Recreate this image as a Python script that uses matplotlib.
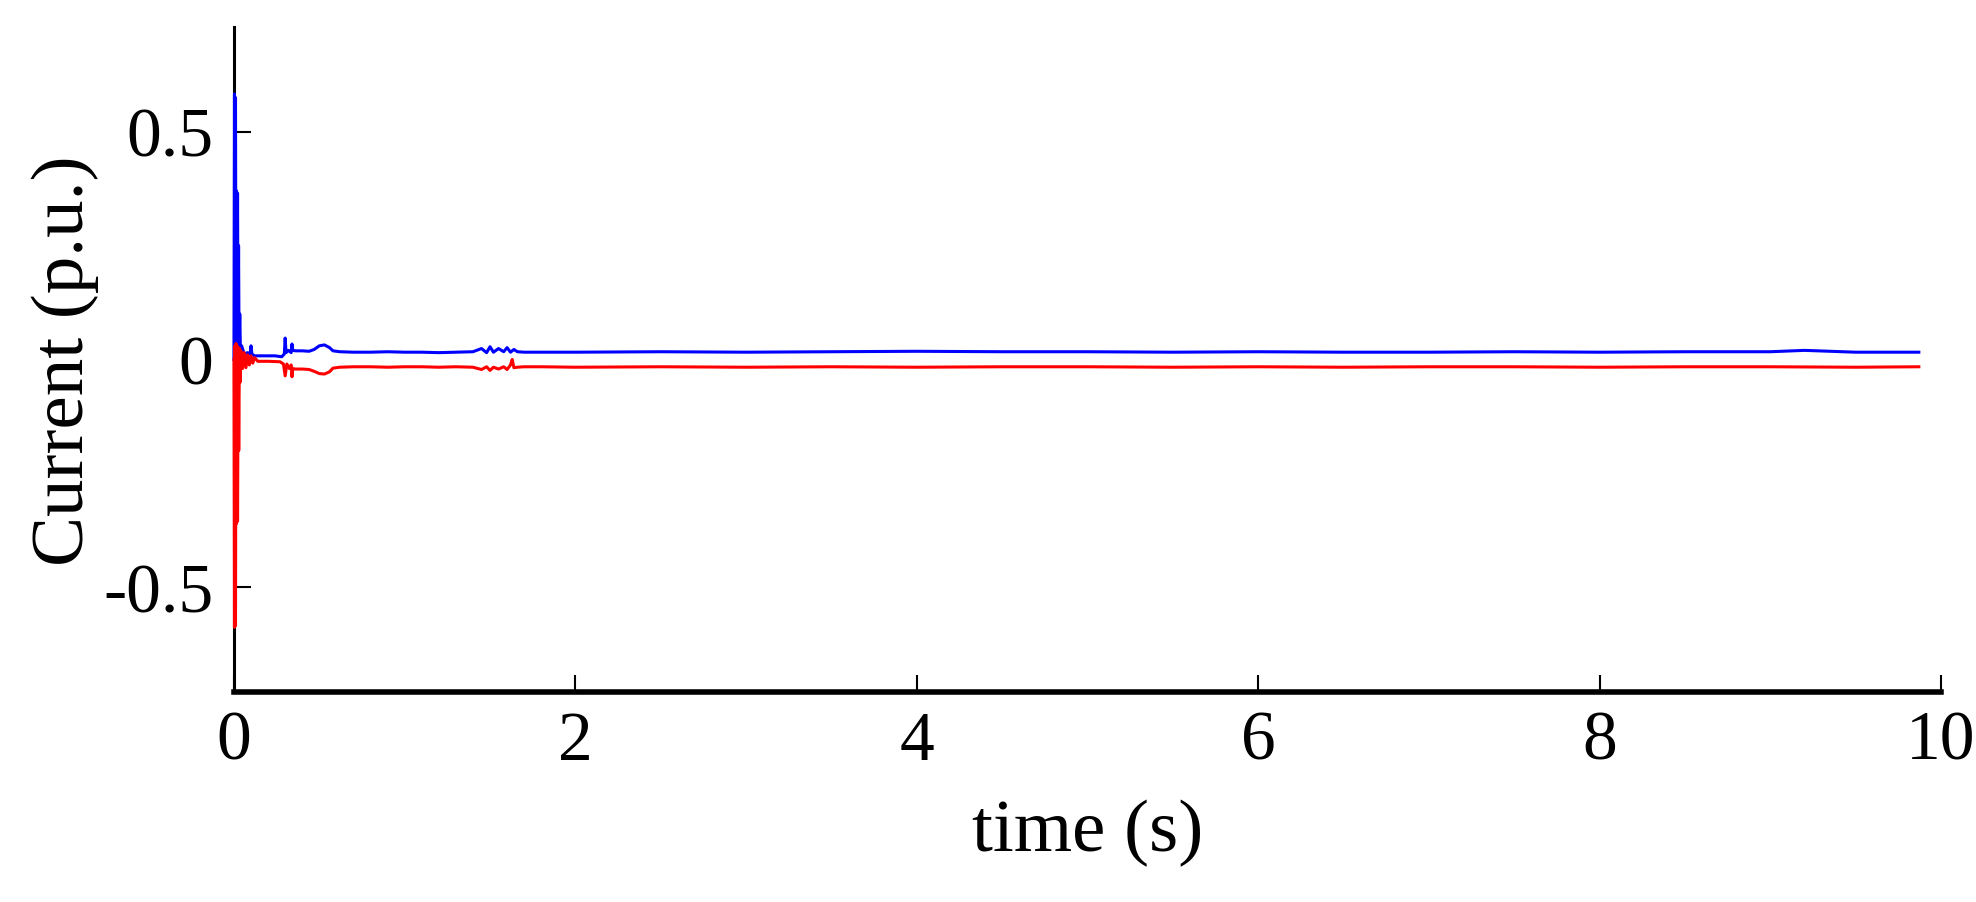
import numpy as np
import matplotlib
matplotlib.use('Agg')
import matplotlib.pyplot as plt

plt.rcParams['font.family'] = 'Liberation Serif'
plt.rcParams['axes.unicode_minus'] = False

# blue current (p.u.)
t_blue = [0, 0.003, 0.006, 0.009, 0.012, 0.015, 0.018, 0.021, 0.024, 0.027,
          0.030, 0.034, 0.038, 0.045, 0.06, 0.08, 0.095, 0.10, 0.105, 0.12,
          0.16, 0.20, 0.24, 0.28, 0.295, 0.30, 0.305, 0.32, 0.335, 0.34,
          0.345, 0.36, 0.40, 0.44, 0.47, 0.50, 0.53, 0.56, 0.58, 0.62,
          0.70, 0.80, 0.90, 1.00, 1.10, 1.20, 1.30, 1.40, 1.45, 1.48,
          1.50, 1.52, 1.55, 1.58, 1.60, 1.62, 1.64, 1.66, 1.70, 1.80,
          2.0, 2.5, 3.0, 3.5, 4.0, 4.5, 5.0, 5.5, 6.0, 6.5,
          7.0, 7.5, 8.0, 8.5, 9.0, 9.2, 9.5, 9.87]
i_blue = [0, 0.583, 0.0, 0.575, 0.02, 0.37, 0.0, 0.365, 0.01, 0.25,
          0.02, 0.10, 0.015, 0.03, 0.012, 0.015, 0.012, 0.03, 0.012, 0.008,
          0.008, 0.008, 0.008, 0.006, 0.012, 0.047, 0.015, 0.02, 0.015, 0.034,
          0.02, 0.019, 0.019, 0.018, 0.022, 0.030, 0.032, 0.026, 0.019, 0.017,
          0.016, 0.016, 0.017, 0.016, 0.016, 0.015, 0.016, 0.017, 0.024, 0.015,
          0.028, 0.016, 0.024, 0.017, 0.026, 0.016, 0.022, 0.017, 0.016, 0.016,
          0.016, 0.017, 0.016, 0.017, 0.018, 0.017, 0.017, 0.016, 0.017, 0.016,
          0.016, 0.017, 0.016, 0.017, 0.017, 0.020, 0.016, 0.016]

# red current (p.u.)
t_red = [0, 0.003, 0.006, 0.009, 0.012, 0.015, 0.018, 0.021, 0.025, 0.028,
         0.032, 0.036, 0.040, 0.05, 0.06, 0.07, 0.08, 0.09, 0.10, 0.11,
         0.12, 0.14, 0.20, 0.27, 0.29, 0.30, 0.31, 0.325, 0.335, 0.34,
         0.345, 0.36, 0.40, 0.44, 0.47, 0.50, 0.53, 0.56, 0.58, 0.62,
         0.70, 0.80, 0.90, 1.00, 1.10, 1.20, 1.30, 1.40, 1.45, 1.48,
         1.50, 1.52, 1.55, 1.58, 1.60, 1.62, 1.63, 1.64, 1.66, 1.70,
         1.80, 2.0, 2.5, 3.0, 3.5, 4.0, 4.5, 5.0, 5.5, 6.0,
         6.5, 7.0, 7.5, 8.0, 8.5, 9.0, 9.5, 9.87]
i_red = [0, -0.588, 0.03, -0.585, 0.035, -0.36, 0.03, -0.355, 0.02, -0.20,
         0.025, -0.05, 0.02, -0.02, 0.015, -0.018, 0.01, -0.012, 0.008, -0.008,
         0.004, -0.004, -0.004, -0.005, -0.01, -0.036, -0.01, -0.02, -0.012, -0.038,
         -0.02, -0.021, -0.021, -0.022, -0.026, -0.031, -0.032, -0.027, -0.019, -0.017,
         -0.016, -0.016, -0.017, -0.016, -0.016, -0.017, -0.016, -0.017, -0.022, -0.016,
         -0.024, -0.017, -0.021, -0.016, -0.022, -0.012, 0.0, -0.018, -0.017, -0.016,
         -0.016, -0.017, -0.016, -0.017, -0.016, -0.017, -0.016, -0.016, -0.017, -0.016,
         -0.017, -0.016, -0.016, -0.017, -0.016, -0.016, -0.017, -0.016]

xticks = [0, 2, 4, 6, 8, 10]
yticks = [-0.5, 0, 0.5]

fig = plt.figure(figsize=(19.76, 9.03), dpi=100)
ax = fig.add_axes([0.1184, 0.2326, 0.8639, 0.7364])

# lines sit on top of the left spine, like in the original
ax.plot(t_blue, i_blue, color='#0000ff', lw=2.2, zorder=3, clip_on=False)
ax.plot(t_red, i_red, color='#ff0000', lw=2.2, zorder=3, clip_on=False)

ax.set_xlim(0, 10)
ax.set_ylim(-0.73, 0.73)
ax.set_xticks(xticks)
ax.set_xticklabels([str(v) for v in xticks])
ax.set_yticks(yticks)
ax.set_yticklabels(['-0.5', '0', '0.5'])

ax.spines['top'].set_visible(False)
ax.spines['right'].set_visible(False)
ax.spines['left'].set_linewidth(2.2)
ax.spines['bottom'].set_linewidth(4)

ax.tick_params(direction='in', length=12, width=1.5, labelsize=50)
ax.tick_params(axis='x', pad=13)
ax.tick_params(axis='y', pad=15)

ax.set_xlabel('time (s)', fontsize=54, labelpad=18)
ax.set_ylabel('Current (p.u.)', fontsize=54, labelpad=3)

fig.savefig('out.png', dpi=100)
